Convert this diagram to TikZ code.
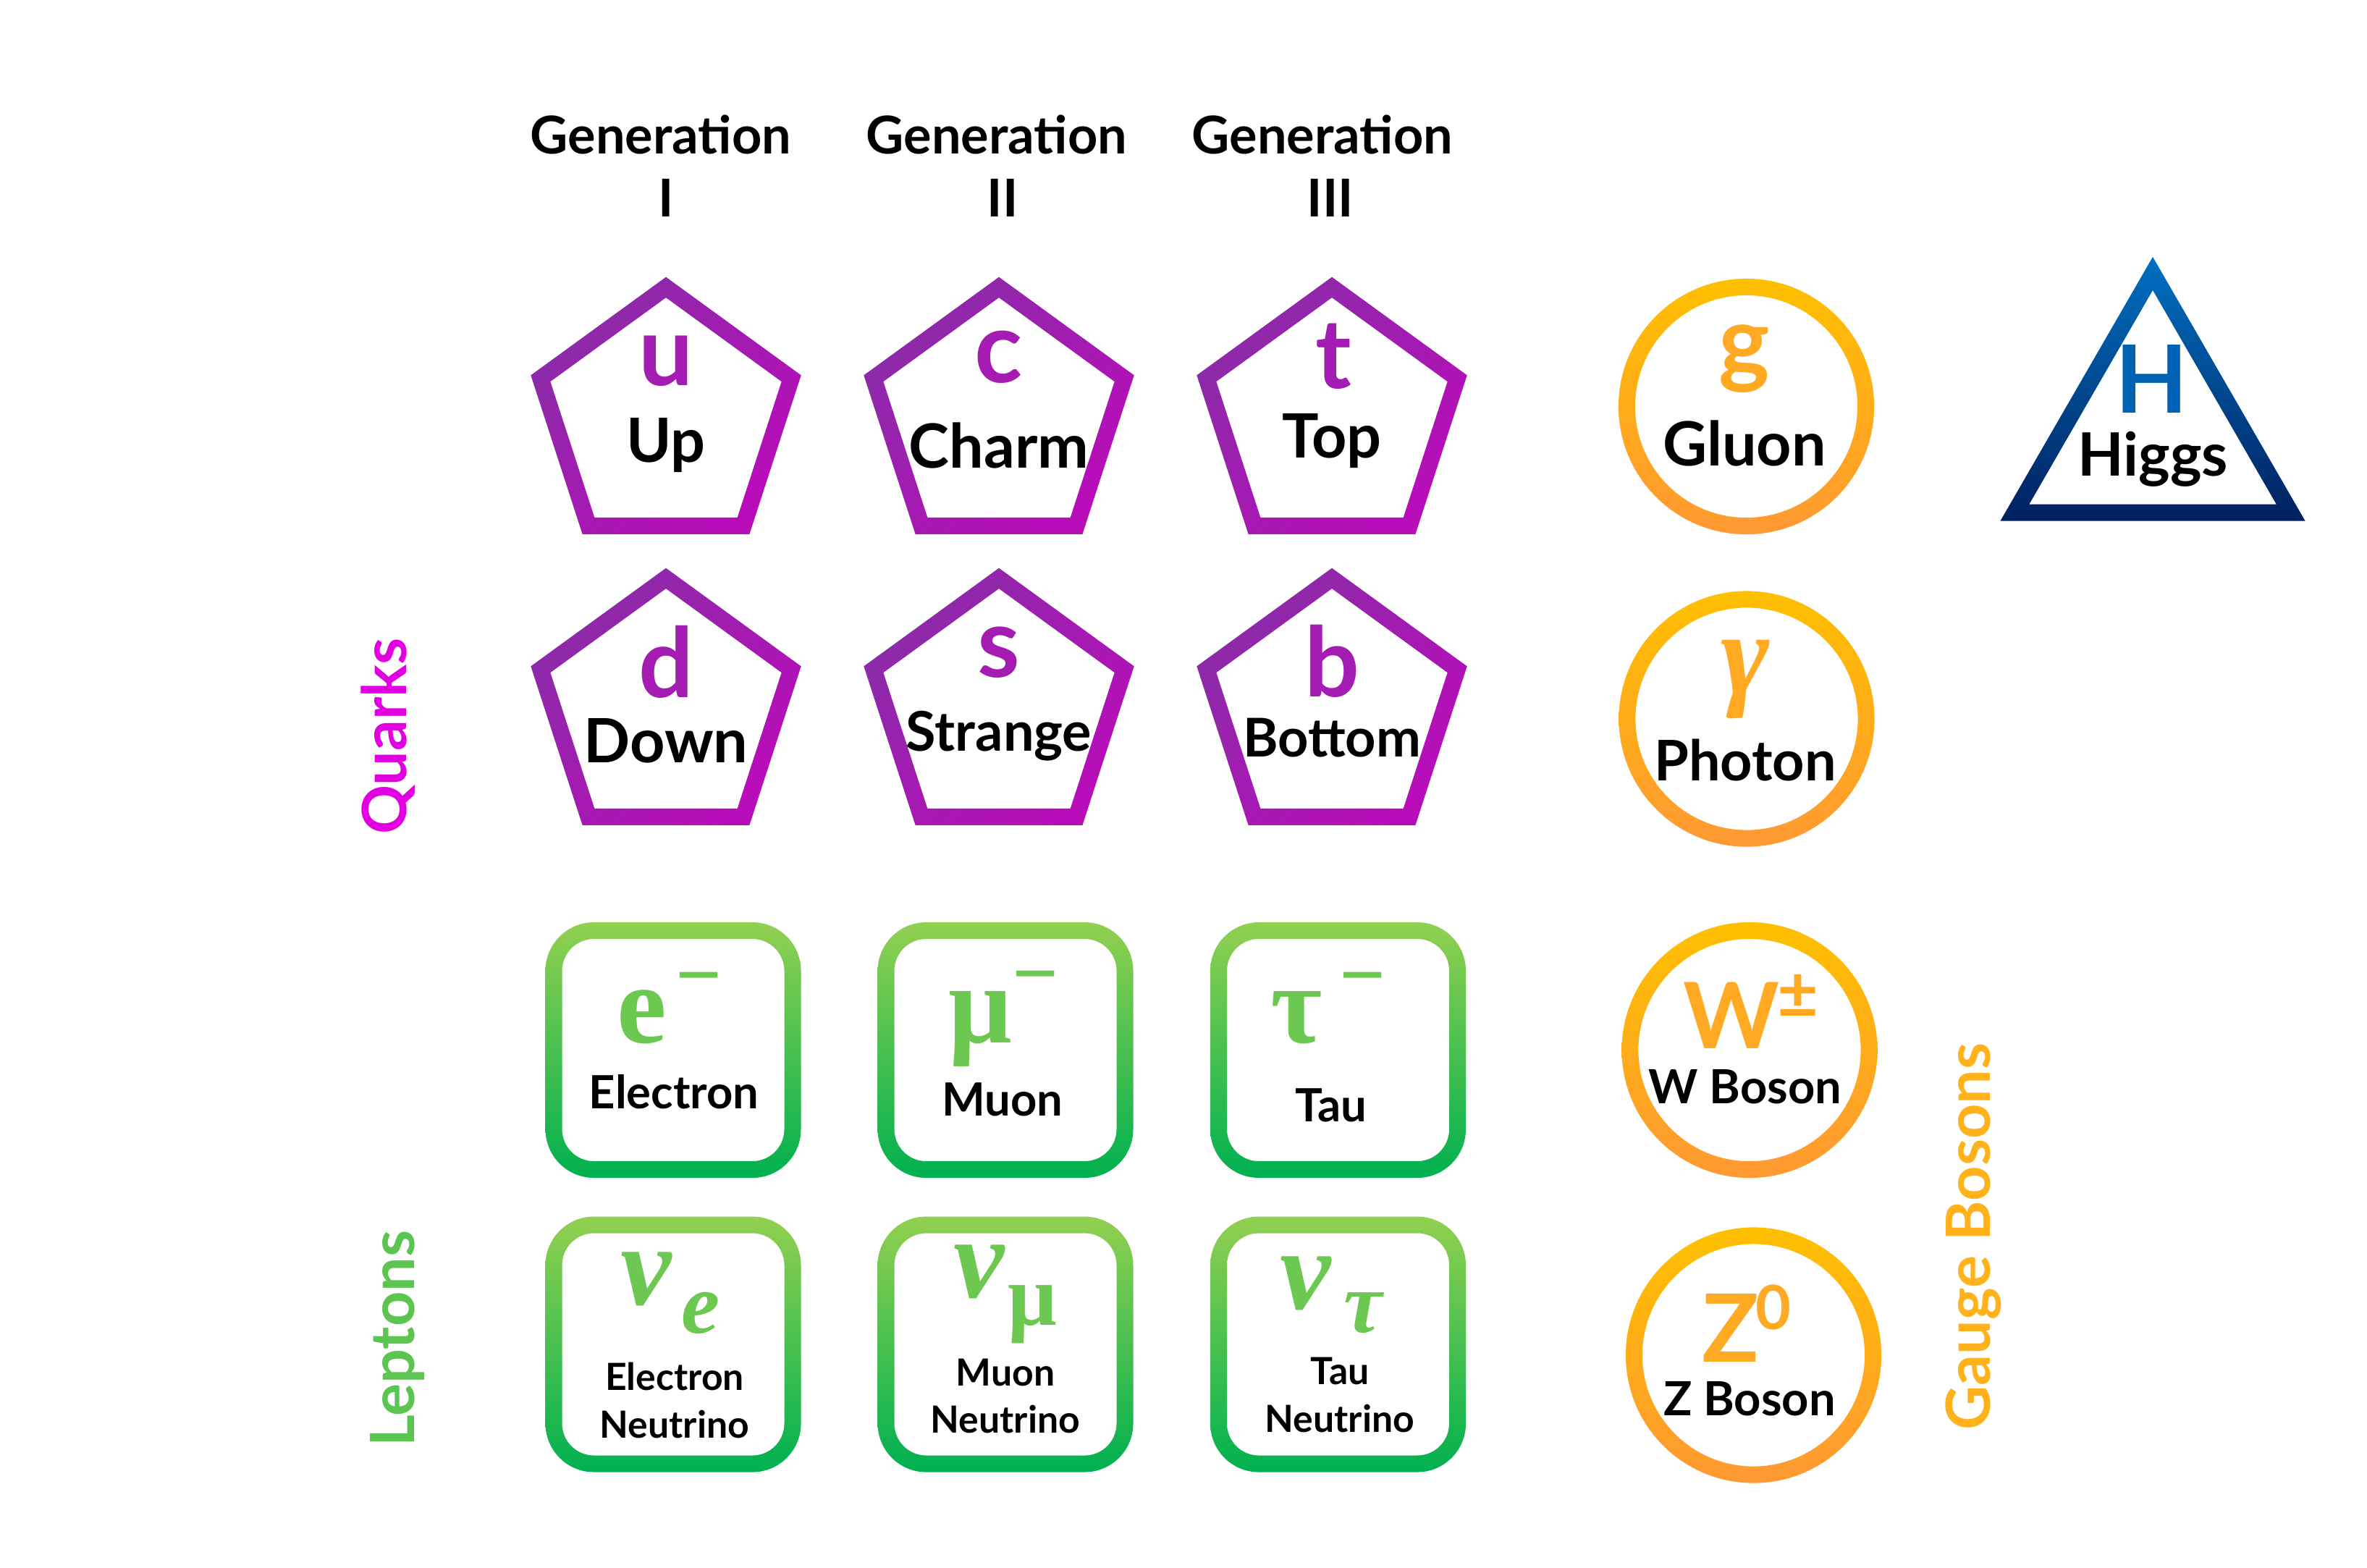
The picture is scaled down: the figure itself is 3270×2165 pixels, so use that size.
\documentclass[tikz,border=0pt]{standalone}
\usepackage{fontspec}
\setmainfont{Lato}
\newfontfamily\grk{Liberation Serif}
\definecolor{quarkA}{HTML}{8A2CA8}
\definecolor{quarkB}{HTML}{B90CB9}
\definecolor{quarkT}{HTML}{A41CB2}
\definecolor{lepA}{HTML}{92D050}
\definecolor{lepB}{HTML}{00B050}
\definecolor{lepT}{HTML}{6CC851}
\definecolor{gauA}{HTML}{FFC000}
\definecolor{gauB}{HTML}{FF9933}
\definecolor{gauT}{HTML}{FFAA22}
\definecolor{higA}{HTML}{0070C0}
\definecolor{higB}{HTML}{002060}
\definecolor{higT}{HTML}{0062B4}
\definecolor{quarkL}{HTML}{E000E0}
\definecolor{lepL}{HTML}{5CC552}
\definecolor{gauL}{HTML}{FFB21C}
\newcommand\fsz[1]{\fontsize{#1}{#1}\selectfont}
\newcommand\pentshape[2]{\shade[top color=quarkA, bottom color=quarkB, shading angle=45, even odd rule]
  (#1,#2) +(90:1.962cm) -- +(162:1.962cm) -- +(234:1.962cm) -- +(306:1.962cm) -- +(18:1.962cm) -- cycle
  (#1,#2) +(90:1.678cm) -- +(162:1.678cm) -- +(234:1.678cm) -- +(306:1.678cm) -- +(18:1.678cm) -- cycle;}
\newcommand\lepshape[2]{\shade[top color=lepA, bottom color=lepB, even odd rule]
  [rounded corners=0.67cm] (#1-176.5,#2-176.5) rectangle (#1+176.5,#2+176.5)
  [rounded corners=0.44cm] (#1-153.5,#2-153.5) rectangle (#1+153.5,#2+153.5);}
\newcommand\gaushape[2]{\shade[top color=gauA, bottom color=gauB, even odd rule]
  (#1,#2) circle[radius=1.765cm] (#1,#2) circle[radius=1.535cm];}
\tikzset{
  txt/.style={inner sep=0pt, anchor=base, font={\fsz{#1}\bfseries}},
  grks/.style={inner sep=0pt, anchor=base, font={\fsz{#1}\grk\bfseries}},
  grki/.style={inner sep=0pt, anchor=base, font={\fsz{#1}\grk\bfseries\itshape}},
}
\begin{document}
\begin{tikzpicture}[x=0.01cm, y=-0.01cm]
\useasboundingbox (0,0) rectangle (3270,2165);
\fill[white] (0,0) rectangle (3270,2165);

% headers
\node[txt=20.5pt] (gen1) at (913,212) {Generation};
\node[txt=20.5pt] (gen1n) at (920,299) {I};
\node[txt=20.5pt] (gen2) at (1377,212) {Generation};
\node[txt=20.5pt] (gen2n) at (1385,299) {II};
\node[txt=20.5pt] (gen3) at (1827,212) {Generation};
\node[txt=20.5pt] (gen3n) at (1838,299) {III};

% quark outlines
\pentshape{920}{579}
\pentshape{1380}{579}
\pentshape{1840}{579}
\pentshape{920}{981}
\pentshape{1380}{981}
\pentshape{1840}{981}

% lepton outlines
\lepshape{930}{1450.5}
\lepshape{1389}{1450.5}
\lepshape{1848.5}{1450.5}
\lepshape{930}{1857}
\lepshape{1389}{1857}
\lepshape{1848.5}{1857}

% gauge outlines
\gaushape{2412.5}{561.5}
\gaushape{2413}{993}
\gaushape{2417}{1450.5}
\gaushape{2422.5}{1872}

% higgs outline
\shade[top color=higA, bottom color=higB, even odd rule]
  (2974,598) +(90:2.43cm) -- +(210:2.43cm) -- +(330:2.43cm) -- cycle
  (2974,598) +(90:1.97cm) -- +(210:1.97cm) -- +(330:1.97cm) -- cycle;

% quark texts
\node[txt=38pt, text=quarkT] (u) at (920,532) {u};
\node[txt=24pt] (up) at (920,638) {Up};
\node[txt=39pt, text=quarkT] (c) at (1380,528) {c};
\node[txt=24pt] (charm) at (1380,646) {Charm};
\node[txt=38pt, text=quarkT] (t) at (1842,536) {t};
\node[txt=24pt] (top) at (1840,632) {Top};
\node[txt=38pt, text=quarkT] (d) at (920,963) {d};
\node[txt=24pt] (down) at (920,1053) {Down};
\node[txt=38pt, text=quarkT] (s) at (1380,935) {s};
\node[txt=21.5pt] (strange) at (1380,1037) {Strange};
\node[txt=38pt, text=quarkT] (b) at (1840,962) {b};
\node[txt=21pt] (bottom) at (1840,1045) {Bottom};

% lepton texts
\node[grks=44pt, text=lepT] (e) at (887,1440) {e};
\node[grks=32pt, text=lepT] (em) at (966,1384) {−};
\node[txt=18pt] (electron) at (931,1531) {Electron};
\node[grks=44pt, text=lepT] (mu) at (1354,1440) {μ};
\node[grks=32pt, text=lepT] (mum) at (1431,1382) {−};
\node[txt=18pt] (muon) at (1385,1541) {Muon};
\node[grks=44pt, text=lepT] (tau) at (1791,1440) {τ};
\node[grks=32pt, text=lepT] (taum) at (1883,1384) {−};
\node[txt=18pt] (taun) at (1839,1549) {Tau};

\node[grki=45pt, text=lepT] (nue) at (893,1802) {ν};
\node[grki=34pt, text=lepT] (nuesub) at (968,1841) {e};
\node[txt=14.7pt] (el2) at (932,1920) {Electron};
\node[txt=14.7pt] (ne1) at (932,1986) {Neutrino};
\node[grki=45pt, text=lepT] (num) at (1353,1792) {ν};
\node[grks=34pt, text=lepT] (numsub) at (1426,1830) {μ};
\node[txt=14.7pt] (mu2) at (1389,1914) {Muon};
\node[txt=14.7pt] (ne2) at (1389,1979) {Neutrino};
\node[grki=45pt, text=lepT] (nut) at (1804,1808) {ν};
\node[grki=34pt, text=lepT] (nutsub) at (1883,1840) {τ};
\node[txt=14.7pt] (ta2) at (1851,1912) {Tau};
\node[txt=14.7pt] (ne3) at (1851,1978) {Neutrino};

% gauge texts
\node[txt=38pt, text=gauT] (g) at (2410,518) {g};
\node[txt=24pt] (gluon) at (2410,643) {Gluon};
\node[grki=46pt, text=gauT] (gamma) at (2411,958) {γ};
\node[txt=22pt] (photon) at (2411,1078) {Photon};
\node[txt=36pt, text=gauT] (w) at (2392,1448) {W};
\node[inner sep=0pt, anchor=center, font={\fsz{28pt}\bfseries}, text=gauT] (wpm) at (2484,1377) {±};
\node[txt=18.5pt] (wboson) at (2411,1524) {W Boson};
\node[txt=37pt, text=gauT] (z) at (2391,1881) {Z};
\node[inner sep=0pt, anchor=center, font={\fsz{24pt}\bfseries}, text=gauT] (z0) at (2450,1806) {0};
\node[txt=18.5pt] (zboson) at (2417,1955) {Z Boson};

% higgs texts
\node[txt=37pt, text=higT] (h) at (2973,570) {H};
\node[txt=23.5pt] (higgs) at (2974,657) {Higgs};

% side labels
\node[txt=24pt, rotate=90, text=quarkL] (quarks) at (561,1017) {Quarks};
\node[txt=24pt, rotate=90, text=lepL] (leptons) at (572,1849) {Leptons};
\node[txt=24pt, rotate=90, text=gauL] (gauge) at (2749,1708) {Gauge Bosons};
\end{tikzpicture}
\end{document}
